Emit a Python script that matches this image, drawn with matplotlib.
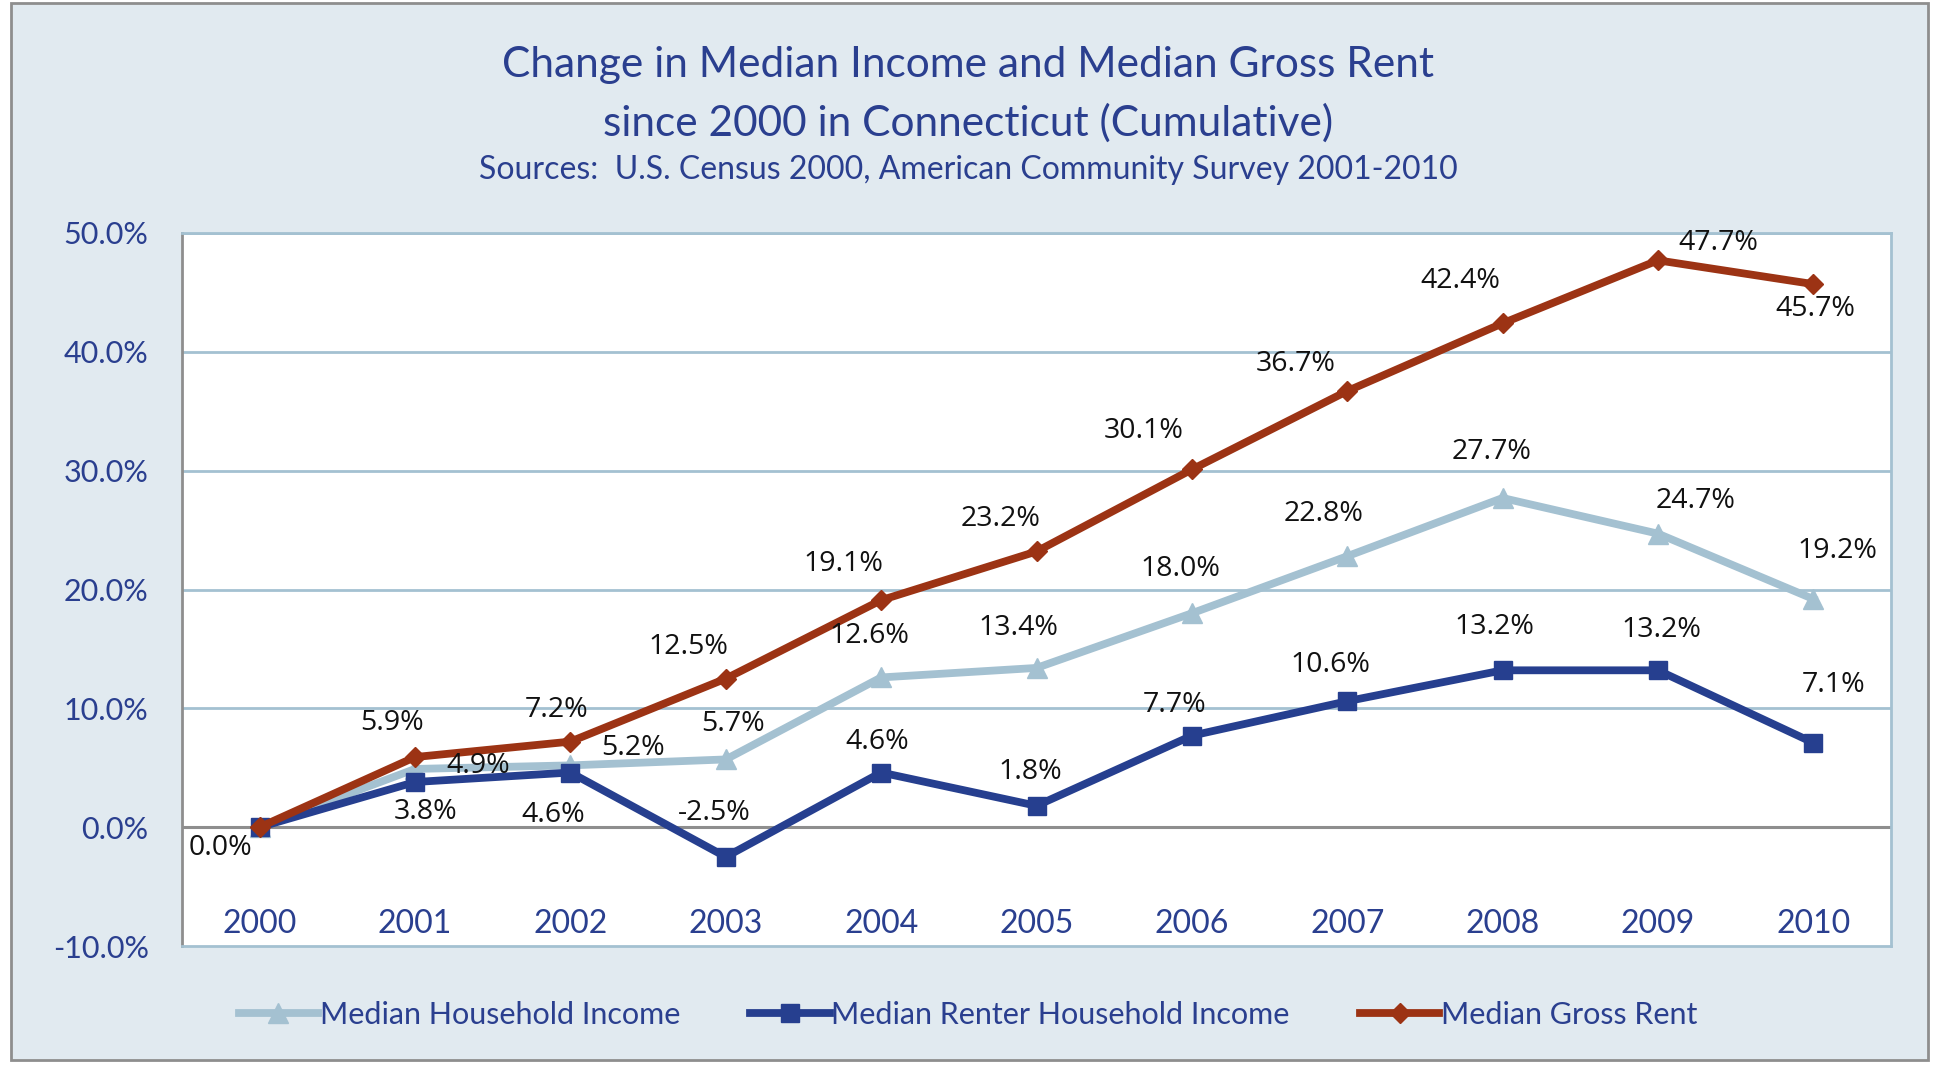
import matplotlib
matplotlib.use("Agg")
import matplotlib.pyplot as plt
from matplotlib.patches import Rectangle

# ---------------- data ----------------
years = ["2000", "2001", "2002", "2003", "2004", "2005",
         "2006", "2007", "2008", "2009", "2010"]
hh_income = [0.0, 4.9, 5.2, 5.7, 12.6, 13.4, 18.0, 22.8, 27.7, 24.7, 19.2]
renter_income = [0.0, 3.8, 4.6, -2.5, 4.6, 1.8, 7.7, 10.6, 13.2, 13.2, 7.1]
gross_rent = [0.0, 5.9, 7.2, 12.5, 19.1, 23.2, 30.1, 36.7, 42.4, 47.7, 45.7]
series_names = ["Median Household Income", "Median Renter Household Income",
                "Median Gross Rent"]
y_ticks = [-10, 0, 10, 20, 30, 40, 50]

title1 = "Change in Median Income and Median Gross Rent"
title2 = "since 2000 in Connecticut (Cumulative)"
subtitle = "Sources:  U.S. Census 2000, American Community Survey 2001-2010"

# label offsets in pixels (dx right, dy down); None = no label
hh_off = [(-39, 21), (63, -3), (63, -17), (7, -35), (-12, -41), (-18, -40),
          (-11, -44), (-24, -42), (-11, -46), (38, -33), (24, -48)]
rn_off = [None, (10, 30), (-17, 42), (-12, -44), (-4, -31), (-6, -34),
          (-17, -31), (-17, -36), (-8, -43), (3, -40), (20, -58)]
gr_off = [None, (-23, -34), (-14, -32), (-37, -32), (-38, -36), (-36, -32),
          (-48, -38), (-52, -27), (-42, -42), (60, -17), (2, 25)]

# ---------------- style ----------------
BG = "#E1EAF0"
C_LIGHT = "#A4C1D1"
C_DARK = "#263F8F"
C_RUST = "#9C3314"
C_TEXT = "#2A3F8F"
C_GREY = "#8E8E8E"

W, H = 1937, 1065
fig = plt.figure(figsize=(W / 100, H / 100), dpi=100)
fig.patch.set_facecolor("white")

# outer panel
fig.patches.append(Rectangle((11 / W, 5 / H), (1928 - 11) / W, (1062 - 5) / H,
                             transform=fig.transFigure, facecolor=BG,
                             edgecolor=C_GREY, linewidth=2, zorder=-10))

L, R, T, B = 182, 1891, 233, 946
ax = fig.add_axes([L / W, 1 - B / H, (R - L) / W, (B - T) / H])
ax.set_facecolor("white")
ax.set_zorder(1)

x = list(range(len(years)))
ax.set_xlim(-0.5, len(years) - 0.5)
ax.set_ylim(-10, 50)

for v in y_ticks:
    if v == -10:
        continue
    ax.axhline(v, color=C_GREY if v == 0 else C_LIGHT,
               lw=2.2 if v == 0 else 2.0, zorder=1)

for name, sp in ax.spines.items():
    sp.set_color(C_GREY if name == "left" else C_LIGHT)
    sp.set_linewidth(2.0)

lw = 5.6
ax.plot(x, hh_income, color=C_LIGHT, lw=lw, marker="^", ms=14,
        zorder=3, label=series_names[0])
ax.plot(x, renter_income, color=C_DARK, lw=lw, marker="s", ms=13,
        zorder=4, label=series_names[1])
ax.plot(x, gross_rent, color=C_RUST, lw=lw, marker="D", ms=10,
        zorder=5, label=series_names[2])

lab_font = dict(family=["Open Sans", "DejaVu Sans"], size=20.5, color="#111111")
for vals, offs in ((hh_income, hh_off), (renter_income, rn_off),
                   (gross_rent, gr_off)):
    for i, (v, o) in enumerate(zip(vals, offs)):
        if o is None:
            continue
        ax.annotate(f"{v:.1f}%", (i, v), xytext=(o[0], -o[1]),
                    textcoords="offset pixels", ha="center", va="center",
                    zorder=6, **lab_font)

# axes ticks
ax.set_yticks(y_ticks)
ax.set_yticklabels([f"{v:.1f}%" for v in y_ticks],
                   family=["Lato", "DejaVu Sans"], size=22, color=C_TEXT)
ax.tick_params(axis="y", length=0, pad=24)
ax.set_xticks([])
for i, yr in enumerate(years):
    ax.text(i, 0.031, yr, transform=ax.get_xaxis_transform(),
            ha="center", va="center", family=["Lato", "DejaVu Sans"],
            size=23, color=C_TEXT)

# titles
fig.text(968 / W, 1 - 65 / H, title1, ha="center", va="center",
         family=["Lato", "DejaVu Sans"], size=30.5, color=C_TEXT)
fig.text(968 / W, 1 - 123 / H, title2, ha="center", va="center",
         family=["Lato", "DejaVu Sans"], size=30.5, color=C_TEXT)
fig.text(968 / W, 1 - 170 / H, subtitle, ha="center", va="center",
         family=["Lato", "DejaVu Sans"], size=23, color=C_TEXT)

# legend
handles, labels = ax.get_legend_handles_labels()
leg = fig.legend(handles, labels, loc="center", ncol=3,
                 bbox_to_anchor=(968 / W, 1 - 1015 / H), frameon=False,
                 prop=dict(family=["Lato", "DejaVu Sans"], size=22),
                 handlelength=2.6, handletextpad=0.05, columnspacing=2.3,
                 labelcolor=C_TEXT)

fig.savefig("out.png", dpi=100, facecolor=fig.get_facecolor())
